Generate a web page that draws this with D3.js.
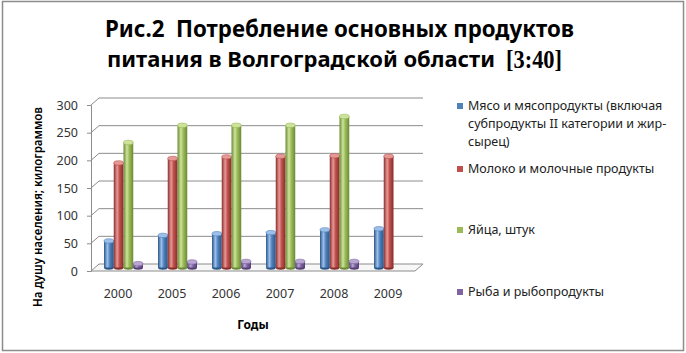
<!DOCTYPE html>
<html>
<head>
<meta charset="utf-8">
<script src="https://cdn.jsdelivr.net/npm/d3@7"></script>
<style>
    body { margin: 0; background: #fff; }
    svg { display: block; font-family: "Noto Sans", "Open Sans", sans-serif; }
</style>
</head>
<body>
<div id="chart"></div>
<script>
/* global d3 */

var years = ["2000", "2005", "2006", "2007", "2008", "2009"];
var seriesNames = [
    "Мясо и мясопродукты (включая субпродукты II категории и жир-сырец)",
    "Молоко и молочные продукты",
    "Яйца, штук",
    "Рыба и рыбопродукты"
];
var meat = [48, 58, 61, 63, 68, 70];
var milk = [189, 197, 200, 201, 202, 201];
var eggs = [226, 257, 257, 257, 273, 0];
var fish = [7, 10, 11, 11, 11, 0];
var yTicks = [0, 50, 100, 150, 200, 250, 300];

var legendLines = [
    ["Мясо и мясопродукты (включая", "субпродукты II категории и жир-", "сырец)"],
    ["Молоко и молочные продукты"],
    ["Яйца, штук"],
    ["Рыба и рыбопродукты"]
];

var colors = [
    { base: "#4F81BD", light: "#9DC0EA", dark: "#2B5688" },
    { base: "#C0504D", light: "#E59A98", dark: "#8A2C2A" },
    { base: "#9BBB59", light: "#CDE39B", dark: "#6A8A34" },
    { base: "#8064A2", light: "#B9A6D3", dark: "#553F75" }
];

var width = 686, height = 353;
var depth = { x: 8, y: -7 };   // 3D wall offset

var series = [meat, milk, eggs, fish];

var svg = d3.select("#chart").append("svg")
    .attr("width", width)
    .attr("height", height);

// frame
svg.append("rect")
    .attr("x", 2.5).attr("y", 1.5)
    .attr("width", 681).attr("height", 349)
    .attr("fill", "#fff")
    .attr("stroke", "#8c8c8c")
    .attr("stroke-width", 1.5);

// gradients for cylinders
var defs = svg.append("defs");
colors.forEach(function (c, i) {
    var g = defs.append("linearGradient")
        .attr("id", "cyl" + i)
        .attr("x1", "0%").attr("x2", "100%").attr("y1", "0%").attr("y2", "0%");
    g.append("stop").attr("offset", "0%").attr("stop-color", c.dark);
    g.append("stop").attr("offset", "35%").attr("stop-color", c.light);
    g.append("stop").attr("offset", "60%").attr("stop-color", c.base);
    g.append("stop").attr("offset", "100%").attr("stop-color", c.dark);
});

// TITLE - one text element, lines as tspans squeezed to the Calibri widths
var title = svg.append("text")
    .attr("font-weight", "bold")
    .attr("font-size", 24)
    .attr("fill", "#000");
title.append("tspan")
    .attr("x", 105).attr("y", 37)
    .attr("textLength", 469).attr("lengthAdjust", "spacingAndGlyphs")
    .text("Рис.2\u00a0 Потребление основных продуктов");
title.append("tspan")
    .attr("x", 107).attr("y", 67)
    .attr("font-size", 22)
    .attr("textLength", 388).attr("lengthAdjust", "spacingAndGlyphs")
    .text("питания в Волгоградской области");
title.append("tspan")
    .attr("x", 506).attr("y", 68)
    .attr("font-size", 25)
    .attr("font-family", "'Liberation Serif', 'DejaVu Serif', serif")
    .attr("textLength", 56).attr("lengthAdjust", "spacingAndGlyphs")
    .text("[3:40]");

// SCALES
var x0 = d3.scaleBand().domain(years).range([91, 415]);
var x1 = d3.scaleBand().domain(d3.range(series.length)).range([9, 48]);
var y = d3.scaleLinear().domain([0, 300]).range([271, 105]);

var grid = svg.append("g").attr("stroke", "#8c8c8c").attr("fill", "none").attr("stroke-width", 1);

// floor
grid.append("path")
    .attr("d", "M" + x0.range()[0] + "," + y(0) +
        "L" + x0.range()[1] + "," + y(0) +
        "L" + (x0.range()[1] + depth.x) + "," + (y(0) + depth.y) +
        "L" + (x0.range()[0] + depth.x) + "," + (y(0) + depth.y) + "Z")
    .attr("fill", "#f7f7f7");

// back wall gridlines + side wall diagonals
grid.selectAll(".gl").data(yTicks.slice(1)).enter().append("path")
    .attr("class", "gl")
    .attr("d", function (d) {
        return "M" + x0.range()[0] + "," + y(d) +
            "L" + (x0.range()[0] + depth.x) + "," + (y(d) + depth.y) +
            "L" + (x0.range()[1] + depth.x) + "," + (y(d) + depth.y);
    });

// y axis (front)
var yAxis = d3.axisLeft(y).tickValues(yTicks).tickSize(4).tickPadding(9);
var yAxisG = svg.append("g")
    .attr("transform", "translate(" + x0.range()[0] + ",0)")
    .call(yAxis);
yAxisG.select(".domain").attr("stroke", "#8c8c8c");
yAxisG.selectAll(".tick line").attr("stroke", "#8c8c8c");
yAxisG.selectAll("text")
    .attr("font-size", 12.5)
    .attr("fill", "#333")
    .attr("font-family", "'Noto Sans', sans-serif");

// BARS (mid depth)
var bx = depth.x / 2, by = depth.y / 2;
var groups = svg.selectAll(".yr").data(years).enter().append("g")
    .attr("class", "yr")
    .attr("transform", function (d) { return "translate(" + (x0(d) + bx) + "," + by + ")"; });

groups.each(function (yr, yi) {
    var g = d3.select(this);
    series.forEach(function (vals, si) {
        var v = vals[yi];
        if (!v) return;
        var w = x1.bandwidth();
        var xx = x1(si);
        var top = y(v), bottom = y(0);
        var ry = 2.2;
        g.append("ellipse")
            .attr("cx", xx + w / 2).attr("cy", bottom)
            .attr("rx", w / 2).attr("ry", ry)
            .attr("fill", colors[si].dark);
        g.append("rect")
            .attr("x", xx).attr("y", top)
            .attr("width", w).attr("height", bottom - top)
            .attr("fill", "url(#cyl" + si + ")");
        g.append("ellipse")
            .attr("cx", xx + w / 2).attr("cy", top)
            .attr("rx", w / 2).attr("ry", ry)
            .attr("fill", colors[si].light)
            .attr("stroke", colors[si].base)
            .attr("stroke-width", 0.6);
    });
});

// x axis labels
svg.append("g").selectAll("text").data(years).enter().append("text")
    .attr("x", function (d) { return x0(d) + x0.bandwidth() / 2; })
    .attr("y", 298)
    .attr("text-anchor", "middle")
    .attr("font-size", 12.5)
    .attr("fill", "#333")
    .text(function (d) { return d; });

// axis titles
svg.append("text")
    .attr("x", 253).attr("y", 329)
    .attr("text-anchor", "middle")
    .attr("font-size", 12)
    .attr("font-weight", "bold")
    .text("Годы");

svg.append("text")
    .attr("transform", "translate(42,207) rotate(-90)")
    .attr("text-anchor", "middle")
    .attr("font-size", 12)
    .attr("font-weight", "600")
    .attr("textLength", 200).attr("lengthAdjust", "spacingAndGlyphs")
    .text("На душу населения; килограммов");

// LEGEND
var legendY = [106, 169, 230, 292];
var legend = svg.append("g").selectAll("g").data(legendLines).enter().append("g")
    .attr("transform", function (d, i) { return "translate(457," + legendY[i] + ")"; });
legend.append("rect")
    .attr("x", 0).attr("y", -3)
    .attr("width", 6).attr("height", 6)
    .attr("fill", function (d, i) { return colors[i].base; });
legend.each(function (lines) {
    var g = d3.select(this);
    lines.forEach(function (t, k) {
        g.append("text")
            .attr("x", 11).attr("y", 4 + k * 18)
            .attr("font-size", 12.5)
            .attr("fill", "#222")
            .text(t);
    });
});
</script>
</body>
</html>
